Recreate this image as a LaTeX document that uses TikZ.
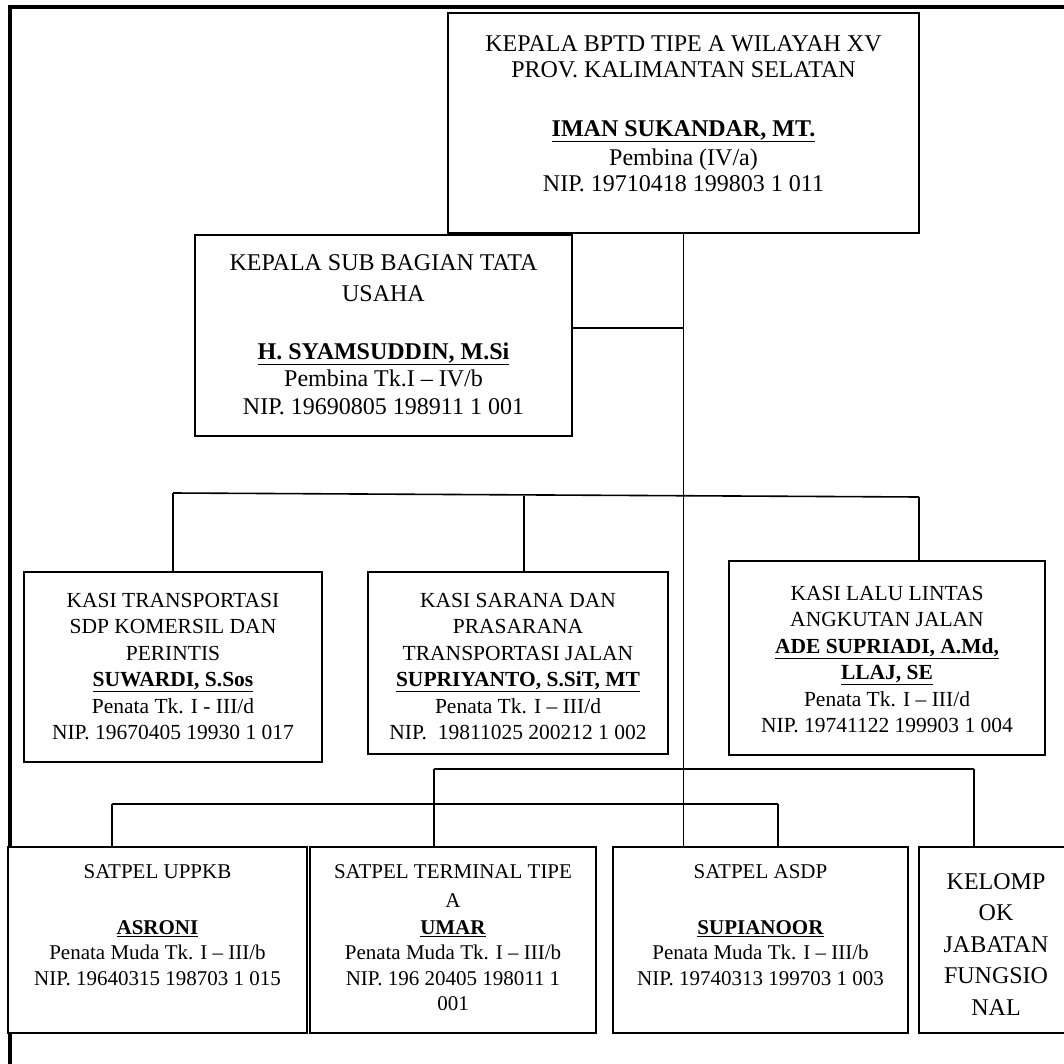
\documentclass[tikz,border=0pt]{standalone}
\usepackage{fontspec}
\setmainfont{Liberation Serif}
\begin{document}
\begin{tikzpicture}[x=1pt,y=-1pt,
  box/.style={draw, line width=1.6pt, fill=white, inner sep=0pt},
  conn/.style={line width=1.6pt},
  bigtxt/.style={anchor=north, inner sep=0pt, align=center, font=\fontsize{24}{26}\selectfont},
  midtxt/.style={anchor=north, inner sep=0pt, align=center, font=\fontsize{21.5}{26.5}\selectfont},
  smalltxt/.style={anchor=north, inner sep=0pt, align=center, font=\fontsize{21}{25.5}\selectfont},
  kelotxt/.style={anchor=north, inner sep=0pt, align=center, font=\fontsize{24}{31.5}\selectfont}]
\useasboundingbox (0,0) rectangle (1064,1064);
\clip (0,0) rectangle (1064,1064);
% outer frame
\draw[line width=3.5pt] (10,7) rectangle (1200,1200);
% boxes
\node[box, minimum width=471pt, minimum height=220pt] (top) at (683.5,123) {};
\node[box, minimum width=377pt, minimum height=201pt] (sub) at (383.5,335.5) {};
\node[box, minimum width=298pt, minimum height=190pt] (k1) at (173,667) {};
\node[box, minimum width=300pt, minimum height=182pt] (k2) at (518,663) {};
\node[box, minimum width=316pt, minimum height=194pt] (k3) at (887,658) {};
\node[box, minimum width=299pt, minimum height=186pt] (s1) at (157.5,940) {};
\node[box, minimum width=286pt, minimum height=186pt] (s2) at (453,940) {};
\node[box, minimum width=295pt, minimum height=186pt] (s3) at (760.5,940) {};
\node[box, minimum width=154pt, minimum height=186pt] (s4) at (996,940) {};
% texts
\node[bigtxt] (toptxt) at (683.5,35) {KEPALA BPTD TIPE A WILAYAH XV\\
PROV. KALIMANTAN SELATAN\\[33pt]
\underline{\textbf{IMAN SUKANDAR, MT.}}\\[3pt]
Pembina (IV/a)\\
NIP. 19710418 199803 1 011};
\node[bigtxt] (subtxt) at (383.5,254) {KEPALA SUB BAGIAN TATA\\[5pt]
USAHA\\[32pt]
\underline{\textbf{H. SYAMSUDDIN, M.Si}}\\[1pt]
Pembina Tk.I – IV/b\\[2pt]
NIP. 19690805 198911 1 001};
\node[midtxt] (k1txt) at (173,593) {KASI TRANSPORTASI\\
SDP KOMERSIL DAN\\
PERINTIS\\
\underline{\textbf{SUWARDI, S.Sos}}\\
Penata Tk. I - III/d\\
NIP. 19670405 19930 1 017};
\node[midtxt] (k2txt) at (518,593) {KASI SARANA DAN\\
PRASARANA\\
TRANSPORTASI JALAN\\
\underline{\textbf{SUPRIYANTO, S.SiT, MT}}\\
Penata Tk. I – III/d\\
NIP.~~19811025 200212 1 002};
\node[midtxt] (k3txt) at (887,586) {KASI LALU LINTAS\\
ANGKUTAN JALAN\\
\underline{\textbf{ADE SUPRIADI, A.Md,}}\\
\underline{\textbf{LLAJ, SE}}\\
Penata Tk. I – III/d\\
NIP. 19741122 199903 1 004};
\node[smalltxt] (s1txt) at (157.5,864) {SATPEL UPPKB\\[30.5pt]
\underline{\textbf{ASRONI}}\\
Penata Muda Tk. I – III/b\\
NIP. 19640315 198703 1 015};
\node[smalltxt] (s2txt) at (453,864) {SATPEL TERMINAL TIPE\\[3.5pt]
A\\[1.5pt]
\underline{\textbf{UMAR}}\\
Penata Muda Tk. I – III/b\\
NIP. 196 20405 198011 1\\
001};
\node[smalltxt] (s3txt) at (760.5,864) {SATPEL ASDP\\[30.5pt]
\underline{\textbf{SUPIANOOR}}\\
Penata Muda Tk. I – III/b\\
NIP. 19740313 199703 1 003};
\node[kelotxt] (s4txt) at (996,873) {KELOMP\\
OK\\
JABATAN\\
FUNGSIO\\
NAL};
% connectors
\coordinate (j1) at (683.5,328);
\draw[conn] (top.south) -- (top.south |- s3.north);
\draw[conn] (sub.east |- j1) -- (j1);
\coordinate (kbL) at (173,493);
\coordinate (kbM) at (524,495.5);
\coordinate (kbR) at (919,497);
\draw[conn] (kbL) -- (kbR);
\draw[conn] (kbL) -- (k1.north);
\draw[conn] (kbM) -- (kbM |- k2.north);
\draw[conn] (kbR) -- (kbR |- k3.north);
\coordinate (b1L) at (434,769);
\coordinate (b1R) at (974,769);
\draw[conn, line width=2.2pt] (b1L) -- (b1R);
\draw[conn] (b1L) -- (b1L |- s2.north);
\draw[conn] (b1R) -- (b1R |- s4.north);
\coordinate (b2L) at (112,804);
\coordinate (b2R) at (778,804);
\draw[conn, line width=2.2pt] (b2L) -- (b2R);
\draw[conn] (b2L) -- (b2L |- s1.north);
\draw[conn] (b2R) -- (b2R |- s3.north);
\end{tikzpicture}
\end{document}
